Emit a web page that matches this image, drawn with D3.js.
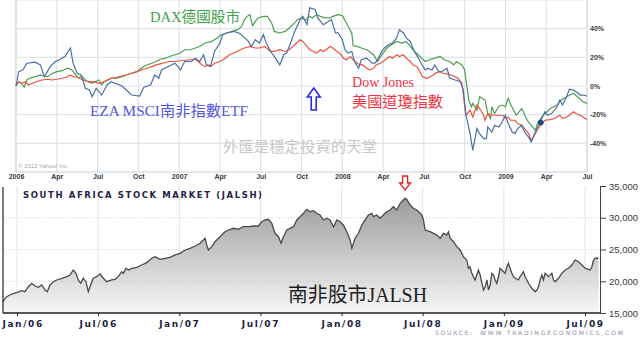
<!DOCTYPE html>
<html>
<head>
<meta charset="utf-8">
<script src="https://cdn.jsdelivr.net/npm/d3@7"></script>
<style>
html, body { margin: 0; padding: 0; background: #fff; overflow: hidden; }
svg { display: block; }
.serif { font-family: "Liberation Serif", "Noto Sans CJK TC", serif; }
</style>
</head>
<body>
<div id="chart"></div>
<script>
// ---- top chart (Yahoo comparison, % change since Jan 2006), [month since Jan 2006, pct]
var daxSeries = [[0,0.7],[0.2,3.0],[0.4,1.9],[0.6,-0.9],[0.8,4.2],[1.0,5.4],[1.4,6.5],[1.8,7.7],[2.0,7.0],[2.3,6.5],[2.6,8.4],[3.0,10.0],[3.4,10.7],[3.6,11.7],[3.8,12.4],[4.1,11.2],[4.3,8.9],[4.6,5.4],[4.8,7.0],[5.1,4.2],[5.3,3.0],[5.6,1.9],[5.8,3.0],[6.1,4.2],[6.3,0.7],[6.5,3.0],[6.8,4.2],[7.0,5.4],[7.4,5.4],[7.8,6.5],[8.1,7.7],[8.5,8.9],[8.9,10.0],[9.2,12.4],[9.6,14.7],[10.0,15.9],[10.3,17.1],[10.6,18.7],[11.0,19.4],[11.3,20.6],[11.7,21.8],[12.1,23.0],[12.4,25.3],[12.8,25.3],[13.2,26.5],[13.5,27.6],[13.9,30.0],[14.4,31.1],[14.8,33.5],[15.1,35.8],[15.5,37.0],[15.9,38.1],[16.3,39.3],[16.6,41.6],[16.8,46.3],[17.0,48.6],[17.2,49.8],[17.4,42.1],[17.6,45.1],[17.8,47.5],[18.2,48.6],[18.5,48.6],[18.8,44.0],[19.0,38.1],[19.4,37.0],[19.8,38.1],[20.1,40.5],[20.5,44.0],[20.7,46.3],[21.0,47.5],[21.3,45.8],[21.6,48.6],[21.8,47.5],[22.1,49.8],[22.4,48.6],[22.7,47.5],[23.1,47.5],[23.3,48.6],[23.7,49.8],[24.0,49.1],[24.3,44.0],[24.7,37.0],[24.8,28.1],[25.1,27.6],[25.4,26.5],[25.8,25.3],[26.3,21.8],[26.6,17.1],[26.9,21.8],[27.3,26.5],[27.6,28.8],[28.0,31.1],[28.4,30.0],[28.7,31.1],[29.2,25.3],[29.7,20.6],[30.1,17.1],[30.4,18.3],[30.8,19.4],[31.2,20.6],[31.5,18.3],[31.9,17.1],[32.2,14.7],[32.4,17.1],[32.8,14.7],[33.0,11.2],[33.1,4.2],[33.3,-9.8],[33.5,-14.5],[33.6,-12.1],[33.9,-16.8],[34.1,-7.5],[34.5,-9.8],[34.7,-19.2],[34.9,-22.7],[35.0,-14.5],[35.2,-19.2],[35.5,-14.5],[35.7,-13.3],[36.0,-14.5],[36.2,-8.6],[36.4,-13.3],[36.8,-20.4],[37.2,-15.7],[37.6,-23.9],[37.9,-27.4],[38.2,-30.9],[38.4,-25.1],[38.8,-20.4],[39.3,-15.7],[39.8,-13.3],[40.1,-9.8],[40.5,-7.5],[41.0,-5.1],[41.3,-7.5],[41.7,-11.0],[42.0,-12.1]];

var dowSeries = [[0,0],[0.2,3.0],[0.4,1.9],[0.7,3.0],[0.9,0.7],[1.2,1.9],[1.5,3.0],[1.9,4.2],[2.3,4.7],[2.6,4.2],[3.0,4.7],[3.4,5.4],[3.7,6.1],[4.0,7.7],[4.2,6.5],[4.5,6.1],[4.7,5.4],[4.9,4.2],[5.3,3.0],[5.7,3.0],[6.1,1.9],[6.3,2.3],[6.7,4.2],[7.0,5.4],[7.4,6.1],[7.8,7.0],[8.1,7.7],[8.5,8.9],[8.9,10.0],[9.2,11.2],[9.6,12.4],[10.0,13.5],[10.3,14.7],[10.6,15.4],[11.0,16.4],[11.3,17.1],[11.7,17.1],[12.1,17.6],[12.4,17.8],[12.8,18.3],[13.2,18.7],[13.4,17.1],[13.7,14.7],[13.9,13.5],[14.1,14.7],[14.4,14.0],[14.6,15.9],[15.0,17.1],[15.4,19.4],[15.7,21.8],[16.1,23.4],[16.5,25.3],[16.8,26.5],[17.2,27.6],[17.6,26.5],[17.9,26.5],[18.3,27.6],[18.7,24.1],[19.0,24.1],[19.4,25.3],[19.8,24.1],[20.1,25.3],[20.5,28.8],[20.9,32.3],[21.1,31.1],[21.4,27.6],[21.6,25.3],[21.9,24.1],[22.1,23.0],[22.4,25.3],[22.6,24.1],[22.8,25.3],[23.1,27.6],[23.3,26.5],[23.6,24.1],[23.8,23.0],[24.1,19.4],[24.3,18.3],[24.6,20.6],[24.8,18.3],[25.1,15.9],[25.3,14.7],[25.5,14.7],[25.8,12.4],[26.0,11.2],[26.3,12.4],[26.5,14.7],[26.8,15.9],[27.0,17.1],[27.3,19.4],[27.5,20.6],[27.7,19.4],[28.0,21.8],[28.2,20.6],[28.5,21.8],[28.7,19.4],[29.0,17.1],[29.2,14.7],[29.5,13.5],[29.7,10.0],[29.9,6.5],[30.2,5.4],[30.4,6.1],[30.7,7.7],[30.9,9.3],[31.2,10.0],[31.4,8.9],[31.7,8.4],[32.0,7.7],[32.3,6.5],[32.5,5.4],[32.8,1.9],[32.9,-5.1],[33.0,-14.5],[33.1,-20.4],[33.4,-16.8],[33.6,-21.6],[33.9,-13.3],[34.1,-15.7],[34.4,-20.4],[34.5,-23.9],[34.7,-19.2],[35.0,-20.4],[35.5,-20.4],[35.8,-20.4],[36.0,-22.7],[36.2,-21.6],[36.4,-23.9],[36.7,-23.9],[36.9,-26.2],[37.2,-27.4],[37.4,-29.7],[37.7,-33.2],[37.9,-37.9],[38.2,-33.2],[38.4,-29.7],[38.7,-26.2],[38.9,-23.9],[39.3,-23.4],[39.6,-22.7],[40.0,-20.4],[40.2,-22.7],[40.5,-21.6],[40.7,-20.4],[41.0,-18.0],[41.2,-19.2],[41.5,-20.4],[41.7,-21.6],[42.0,-23.4]];

var ezaSeries = [[0,0],[0.2,10.0],[0.5,11.2],[0.8,15.9],[1.4,16.6],[1.8,14.7],[2.0,8.9],[2.1,6.5],[2.5,13.5],[2.9,17.1],[3.2,18.3],[3.6,20.6],[4.0,26.5],[4.2,15.9],[4.5,8.9],[4.8,7.7],[5.1,-1.6],[5.4,-2.8],[5.6,-7.5],[5.9,-1.6],[6.3,-6.3],[6.7,0.7],[7.0,3.0],[7.8,0],[8.5,-6.3],[9.1,-7.0],[9.4,-0.9],[9.9,0.7],[10.2,7.7],[10.5,5.4],[10.7,11.2],[11.2,13.6],[11.7,15.9],[12.1,11.2],[12.4,17.1],[12.9,17.1],[13.2,19.4],[13.5,17.1],[13.8,21.8],[14.0,14.7],[14.3,13.5],[14.6,24.1],[15.0,30.0],[15.2,35.8],[15.5,37.0],[16.0,38.1],[16.4,37.0],[16.7,34.6],[17.1,31.1],[17.3,27.6],[17.6,32.3],[17.9,30.0],[18.2,35.8],[18.4,30.0],[18.8,23.0],[19.0,20.6],[19.4,14.7],[19.7,21.8],[19.9,23.0],[20.2,30.0],[20.5,38.1],[20.9,46.3],[21.1,48.6],[21.4,42.8],[21.6,54.5],[22.0,53.4],[22.2,47.5],[22.6,42.8],[23.0,45.1],[23.2,46.3],[23.5,37.0],[23.7,37.0],[24.0,32.3],[24.2,25.3],[24.4,23.0],[24.7,24.1],[24.9,17.1],[25.2,12.4],[25.4,18.3],[25.8,19.4],[26.2,15.9],[26.4,15.9],[26.6,18.3],[26.9,24.1],[27.1,26.5],[27.4,28.8],[27.7,30.0],[28.0,33.5],[28.2,39.3],[28.5,37.0],[28.7,33.5],[29.0,31.1],[29.3,24.1],[29.6,19.4],[29.8,15.9],[30.1,11.2],[30.3,12.4],[30.6,11.2],[30.8,14.7],[31.1,10.0],[31.3,10.0],[31.7,12.4],[31.9,5.6],[32.3,4.2],[32.7,3.0],[32.9,-2.8],[33.1,-20.4],[33.4,-33.2],[33.6,-44.9],[33.9,-29.7],[34.1,-33.2],[34.4,-36.7],[34.6,-36.7],[34.7,-28.6],[35.0,-32.1],[35.2,-27.4],[35.5,-28.6],[35.7,-26.2],[36.0,-20.4],[36.2,-26.2],[36.5,-32.1],[36.7,-33.2],[36.9,-29.7],[37.2,-27.4],[37.4,-32.1],[37.7,-35.6],[37.9,-39.1],[38.2,-32.1],[38.5,-26.2],[38.9,-18.0],[39.1,-20.4],[39.4,-19.2],[39.8,-14.5],[40.0,-9.8],[40.2,-13.3],[40.5,-7.5],[40.7,-2.3],[41.0,-2.8],[41.2,-4.0],[41.5,-6.3],[41.7,-6.3],[42.0,-7.0]];

var markerPoint = [38.6, -25.5];
var topMonthLabels = ["2006","Apr","Jul","Oct","2007","Apr","Jul","Oct","2008","Apr","Jul","Oct","2009","Apr","Jul"];
var topPctTicks = [40, 20, 0, -20, -40];
var topGridPct = [60, 40, 20, 0, -20, -40, -60];

// ---- bottom chart (JALSH index level), [month since Jan 2006, index]
var jalshSeries = [[-1.06,16780],[-0.76,17570],[-0.39,17990],[-0.02,18200],[0.35,18510],[0.59,18350],[0.84,19140],[1.09,19680],[1.33,19250],[1.58,19050],[1.83,19410],[2.07,18620],[2.24,18350],[2.44,19410],[2.68,19930],[2.94,20200],[3.31,20470],[3.68,20720],[3.92,20990],[4.16,21770],[4.36,21250],[4.53,20200],[4.71,19680],[4.9,20470],[5.1,19930],[5.27,18350],[5.4,19140],[5.53,19930],[5.64,20470],[5.89,20720],[6.14,21140],[6.38,20470],[6.63,19930],[7.0,20200],[7.25,20310],[7.49,20720],[7.74,21500],[7.86,21250],[8.06,22040],[8.23,21770],[8.48,22040],[8.85,22200],[9.22,22560],[9.59,22920],[9.96,23620],[10.21,23870],[10.58,23460],[10.95,23620],[11.32,23770],[11.69,24140],[12.06,24400],[12.43,24920],[12.8,25190],[13.17,25550],[13.54,25980],[13.91,26770],[14.03,25710],[14.15,24920],[14.4,25440],[14.64,26230],[15.01,27020],[15.38,27800],[15.63,28070],[16.0,28340],[16.37,28180],[16.74,28590],[17.11,28590],[17.48,28700],[17.85,28700],[18.1,29380],[18.34,29650],[18.59,29760],[18.84,29130],[19.08,27550],[19.33,27020],[19.53,25980],[19.7,27020],[19.95,28070],[20.19,28340],[20.44,28590],[20.69,29650],[20.93,30170],[21.18,30700],[21.43,31330],[21.67,30950],[21.92,31110],[22.17,30700],[22.41,30440],[22.66,29650],[22.91,29920],[23.15,29650],[23.4,28590],[23.65,29650],[23.89,29380],[24.13,28860],[24.39,27800],[24.63,26500],[24.76,25190],[25.0,26770],[25.24,27550],[25.5,28860],[25.74,29650],[25.98,30440],[26.24,30700],[26.35,30170],[26.6,30440],[26.85,29920],[27.09,30440],[27.34,30950],[27.59,31220],[27.83,31740],[28.08,31220],[28.33,32280],[28.57,32800],[28.7,33070],[28.82,32910],[29.07,32010],[29.31,31490],[29.56,31220],[29.81,30700],[29.93,30440],[30.05,29650],[30.18,28070],[30.55,27800],[30.79,27550],[31.04,27290],[31.29,26770],[31.53,27550],[31.78,27290],[31.9,27800],[32.03,26770],[32.27,26230],[32.52,25440],[32.77,24920],[33.01,23870],[33.26,23350],[33.38,22040],[33.5,22290],[33.63,21250],[33.87,20200],[34.0,20990],[34.12,21770],[34.25,20990],[34.38,19680],[34.5,18620],[34.62,19140],[34.75,20200],[34.86,18620],[34.99,19410],[35.11,21250],[35.23,20990],[35.36,20200],[35.48,19680],[35.6,20720],[35.72,22040],[35.85,21770],[36.09,21250],[36.22,22290],[36.34,22830],[36.46,22040],[36.59,21250],[36.71,20720],[36.83,20470],[37.08,20200],[37.2,20720],[37.45,21500],[37.57,20720],[37.82,19680],[38.07,18890],[38.31,18350],[38.44,18620],[38.56,19140],[38.68,20200],[38.81,20990],[38.93,20200],[39.05,21250],[39.3,20720],[39.55,21250],[39.67,20200],[39.79,19930],[40.04,20470],[40.29,21250],[40.53,21770],[40.78,22040],[41.03,22560],[41.27,23350],[41.52,23080],[41.77,22560],[42.01,22040],[42.26,21880],[42.38,21770],[42.51,22290],[42.63,23350],[42.75,23620],[43.0,23620]];

var jalshMonthLabels = ["Jan/06","Jul/06","Jan/07","Jul/07","Jan/08","Jul/08","Jan/09","Jul/09"];
var jalshTicks = [15000, 20000, 25000, 30000, 35000];
var jalshGrid = [20000, 25000, 30000];

var svg = d3.select("#chart").append("svg")
    .attr("width", 640)
    .attr("height", 337);

// ================= top chart =================
var xTop = d3.scaleLinear().domain([0, 42]).range([16, 587]);
var yTop = d3.scaleLinear().domain([-60, 60]).range([172, 0]);

var topG = svg.append("g");

// grid
topG.selectAll(".vgrid").data(d3.range(0, 43, 3)).enter().append("line")
    .attr("x1", d => xTop(d)).attr("x2", d => xTop(d))
    .attr("y1", 0).attr("y2", 172)
    .attr("stroke", d => (d === 0 || d === 42) ? "#c9d2dc" : "#dde4ec")
    .attr("stroke-width", 1.2);

topG.selectAll(".hgrid").data(topGridPct).enter().append("line")
    .attr("x1", xTop(0)).attr("x2", xTop(42))
    .attr("y1", d => yTop(d)).attr("y2", d => yTop(d))
    .attr("stroke", d => d === -60 ? "#c9d2dc" : "#dde4ec")
    .attr("stroke-width", 1.2);

// axes
var topXAxis = d3.axisBottom(xTop)
    .tickValues(d3.range(0, 43, 3))
    .tickFormat((d, i) => topMonthLabels[i])
    .tickSize(0).tickPadding(2.5);

topG.append("g")
    .attr("transform", "translate(0,172)")
    .call(topXAxis)
    .call(g => g.select(".domain").remove())
    .selectAll("text")
    .attr("font-family", "Liberation Sans, Arial, sans-serif")
    .attr("font-size", "7px")
    .attr("font-weight", "bold")
    .attr("fill", "#3a3a3a");

var topYAxis = d3.axisRight(yTop)
    .tickValues(topPctTicks)
    .tickFormat(d => d + "%")
    .tickSize(0).tickPadding(3);

topG.append("g")
    .attr("transform", "translate(587,0)")
    .call(topYAxis)
    .call(g => g.select(".domain").remove())
    .selectAll("text")
    .attr("font-family", "Liberation Sans, Arial, sans-serif")
    .attr("font-size", "7px")
    .attr("font-weight", "bold")
    .attr("fill", "#3a3a3a");

// lines
var topLine = d3.line()
    .x(d => xTop(d[0]))
    .y(d => yTop(d[1]));

topG.append("path").datum(daxSeries)
    .attr("d", topLine).attr("fill", "none")
    .attr("stroke", "#4f9d50").attr("stroke-width", 1.2);

topG.append("path").datum(dowSeries)
    .attr("d", topLine).attr("fill", "none")
    .attr("stroke", "#ef5140").attr("stroke-width", 1.2);

topG.append("path").datum(ezaSeries)
    .attr("d", topLine).attr("fill", "none")
    .attr("stroke", "#4a70a6").attr("stroke-width", 1.2);

topG.append("circle")
    .attr("cx", xTop(markerPoint[0]))
    .attr("cy", yTop(markerPoint[1]))
    .attr("r", 2.8)
    .attr("fill", "#1d4a86");

topG.append("text")
    .attr("x", 18).attr("y", 168)
    .attr("font-family", "Liberation Sans, Arial, sans-serif")
    .attr("font-size", "6px")
    .attr("fill", "#a8a8a8")
    .text("\u00a9 2012 Yahoo! Inc.");

// annotations
function note(x, y, str, color, size, len) {
    var t = svg.append("text")
        .attr("class", "serif")
        .attr("x", x).attr("y", y)
        .attr("font-size", size + "px")
        .attr("fill", color)
        .text(str);
    if (len) t.attr("textLength", len).attr("lengthAdjust", "spacingAndGlyphs");
    return t;
}
note(150, 22, "DAX德國股市", "#45a24c", 15, 90);
note(90, 116, "EZA  MSCI南非指數ETF", "#5656d6", 15, 158);
note(352, 87, "Dow Jones", "#ee3340", 15, 62);
note(352, 107, "美國道瓊指數", "#ee3340", 15, 91);
note(223, 152, "外匯是穩定投資的天堂", "#c9c9c9", 15, 154);

// blue up arrow (points at the EZA peak)
svg.append("path")
    .attr("transform", "translate(" + xTop(21.9) + ",88)")
    .attr("d", "M0,0 L6.5,9 L2.5,9 L2.5,22 L-2.5,22 L-2.5,9 L-6.5,9 Z")
    .attr("fill", "#fff")
    .attr("stroke", "#2b2be0")
    .attr("stroke-width", 1.6);

// ================= bottom chart =================
var xBot = d3.scaleLinear().domain([0, 42]).range([17, 585]);
var yBot = d3.scaleLinear().domain([15000, 35000]).range([313, 186]);

var botG = svg.append("g");

var defs = svg.append("defs");
var grad = defs.append("linearGradient")
    .attr("id", "areaFill")
    .attr("gradientUnits", "userSpaceOnUse")
    .attr("x1", 0).attr("y1", 190).attr("x2", 0).attr("y2", 313);
grad.append("stop").attr("offset", "0%").attr("stop-color", "#959595");
grad.append("stop").attr("offset", "100%").attr("stop-color", "#f7f7f7");

// grid
botG.selectAll(".vgrid").data(d3.range(0, 43, 6)).enter().append("line")
    .attr("x1", d => xBot(d)).attr("x2", d => xBot(d))
    .attr("y1", 186).attr("y2", 313)
    .attr("stroke", "#e4e4e4").attr("stroke-width", 1);

var area = d3.area()
    .x(d => xBot(d[0]))
    .y0(yBot(15000))
    .y1(d => yBot(d[1]));

botG.append("path").datum(jalshSeries)
    .attr("d", area)
    .attr("fill", "url(#areaFill)");

botG.selectAll(".hgrid").data(jalshGrid).enter().append("line")
    .attr("x1", 3).attr("x2", 600)
    .attr("y1", d => yBot(d)).attr("y2", d => yBot(d))
    .attr("stroke", "#c4c4c4").attr("stroke-width", 0.8)
    .attr("stroke-dasharray", "1,2");

botG.append("path").datum(jalshSeries)
    .attr("d", d3.line().x(d => xBot(d[0])).y(d => yBot(d[1])))
    .attr("fill", "none")
    .attr("stroke", "#4a4a4a")
    .attr("stroke-width", 1.3);

// frame lines
botG.append("line")
    .attr("x1", 3).attr("x2", 3).attr("y1", 187).attr("y2", 313)
    .attr("stroke", "#222").attr("stroke-width", 1.2);
botG.append("line")
    .attr("x1", 3).attr("x2", 600).attr("y1", 313).attr("y2", 313)
    .attr("stroke", "#222").attr("stroke-width", 1.4);

var botXAxis = d3.axisBottom(xBot)
    .tickValues(d3.range(0, 43, 6))
    .tickFormat((d, i) => jalshMonthLabels[i])
    .tickSize(3).tickPadding(5);

var bx = botG.append("g")
    .attr("transform", "translate(0,313)")
    .call(botXAxis)
    .call(g => g.select(".domain").remove());
bx.selectAll("line").attr("stroke", "#222");
bx.selectAll("text")
    .attr("font-family", "DejaVu Sans, Verdana, sans-serif")
    .attr("font-size", "9px")
    .attr("font-weight", "bold")
    .attr("letter-spacing", "1.6px")
    .attr("fill", "#1d1d45");
bx.select(".tick text").attr("text-anchor", "start").attr("x", -15);

var botYAxis = d3.axisRight(yBot)
    .tickValues(jalshTicks)
    .tickSize(6).tickSizeOuter(0).tickPadding(3);

var by = botG.append("g")
    .attr("transform", "translate(600,0)")
    .call(botYAxis);
by.select(".domain").attr("stroke", "#444");
by.selectAll("line").attr("stroke", "#444");
by.selectAll("text")
    .attr("font-family", "Liberation Sans, Arial, sans-serif")
    .attr("font-size", "9.5px")
    .attr("fill", "#3a3a3a");

// titles
svg.append("text")
    .attr("x", 23).attr("y", 197.5)
    .attr("font-family", "DejaVu Sans, Verdana, sans-serif")
    .attr("font-size", "8.5px")
    .attr("font-weight", "bold")
    .attr("fill", "#1f2248")
    .attr("textLength", 239)
    .attr("lengthAdjust", "spacing")
    .text("SOUTH AFRICA STOCK MARKET (JALSH)");

svg.append("text")
    .attr("x", 435).attr("y", 335)
    .attr("font-family", "DejaVu Sans, Verdana, sans-serif")
    .attr("font-size", "6px")
    .attr("fill", "#8c8ca0")
    .attr("textLength", 37)
    .attr("lengthAdjust", "spacing")
    .text("SOURCE:");
svg.append("text")
    .attr("x", 480).attr("y", 335)
    .attr("font-family", "DejaVu Sans, Verdana, sans-serif")
    .attr("font-size", "6px")
    .attr("fill", "#8c8ca0")
    .attr("textLength", 143)
    .attr("lengthAdjust", "spacing")
    .text("WWW.TRADINGECONOMICS.COM");

note(288, 302, "南非股市JALSH", "#1e1e1e", 20, 139);

// red down arrow (points at JALSH peak)
svg.append("path")
    .attr("transform", "translate(" + xBot(28.7) + ",176)")
    .attr("d", "M-2.5,0 L2.5,0 L2.5,7 L5.5,7 L0,14 L-5.5,7 L-2.5,7 Z")
    .attr("fill", "#fff")
    .attr("stroke", "#e82020")
    .attr("stroke-width", 1.3);
</script>
</body>
</html>
